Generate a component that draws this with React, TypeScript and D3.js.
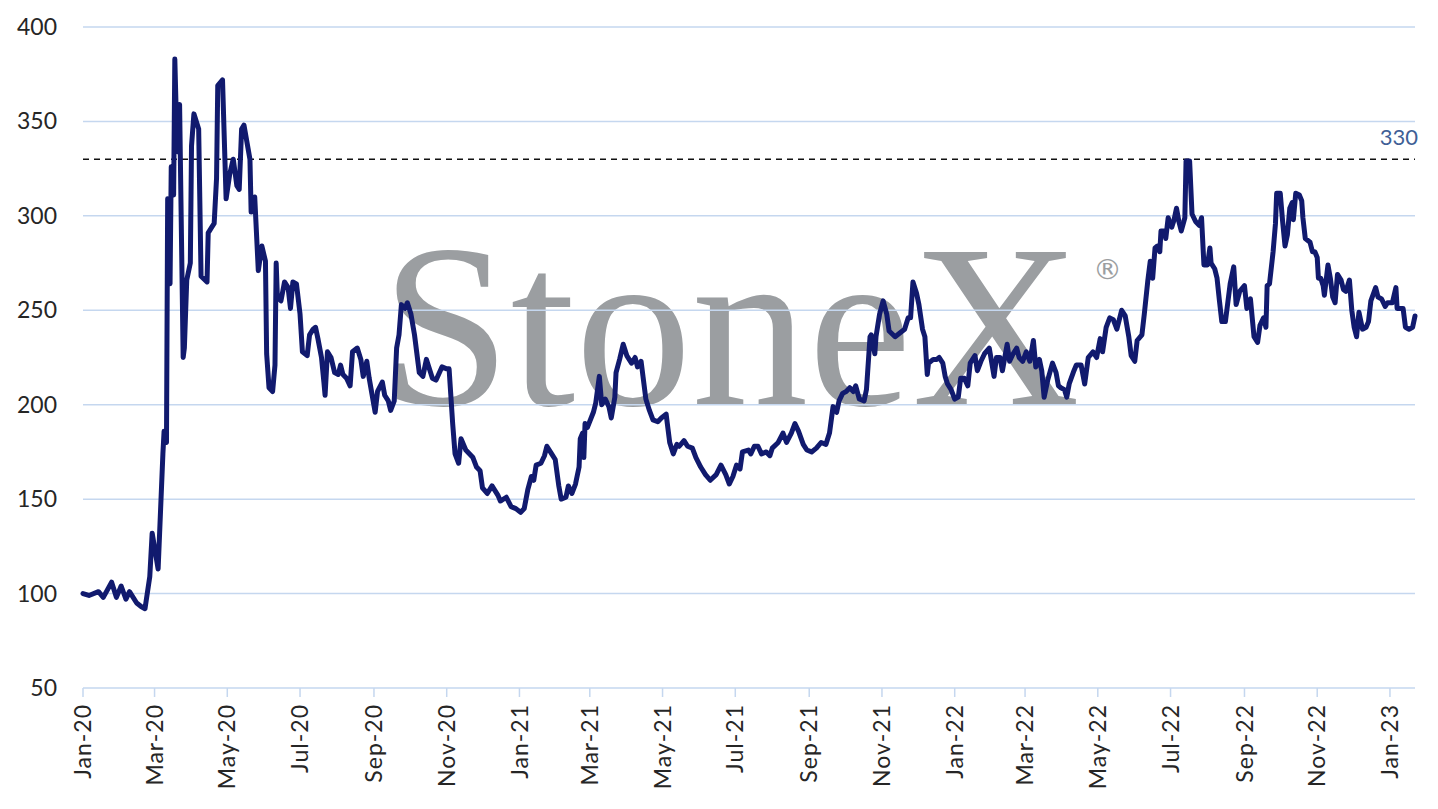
import { useRef, useEffect } from 'react'
import * as d3 from 'd3'

// Index level, one reading every few days
const days2020 = [
  '01-01', '01-06', '01-14', '01-18', '01-25', '01-29', '02-02', '02-06', '02-09', '02-15',
  '02-19', '02-22', '02-26', '02-28', '03-04', '03-08', '03-09', '03-11', '03-12', '03-14',
  '03-15', '03-17', '03-18', '03-20', '03-22', '03-25', '03-26', '03-28', '03-31', '04-01',
  '04-03', '04-07', '04-09', '04-14', '04-15', '04-18', '04-20', '04-22', '04-23', '04-27',
  '04-30', '05-03', '05-06', '05-09', '05-11', '05-13', '05-15', '05-20', '05-21', '05-24',
  '05-27', '05-30', '06-02', '06-03', '06-05', '06-08', '06-10', '06-11', '06-12', '06-15',
  '06-18', '06-21', '06-23', '06-25', '06-28', '07-01', '07-03', '07-07', '07-09', '07-12',
  '07-14', '07-16', '07-19', '07-21', '07-22', '07-24', '07-27', '07-30', '08-02', '08-04',
  '08-06', '08-09', '08-12', '08-14', '08-18', '08-21', '08-23', '08-26', '08-28', '09-02',
  '09-04', '09-08', '09-10', '09-13', '09-15', '09-18', '09-20', '09-22', '09-24', '09-27',
  '09-29', '10-02', '10-05', '10-09', '10-12', '10-15', '10-18', '10-20', '10-23', '10-28',
  '11-01', '11-03', '11-06', '11-08', '11-11', '11-13', '11-17', '11-23', '11-26', '11-29',
  '12-01', '12-05', '12-09', '12-14', '12-16', '12-21', '12-25', '12-29',
]
const vals2020 = [
  100, 99, 101, 98, 106, 98, 104, 97, 101, 95,
  93, 92, 109, 132, 113, 174, 186, 180, 309, 264,
  326, 311, 383, 334, 359, 225, 230, 266, 275, 337,
  354, 346, 268, 265, 291, 294, 296, 320, 369, 372,
  309, 322, 330, 316, 314, 346, 348, 330, 302, 310,
  271, 284, 276, 227, 209, 207, 221, 275, 257, 255,
  265, 262, 251, 265, 264, 248, 228, 226, 237, 240,
  241, 235, 225, 212, 205, 228, 225, 217, 216, 221,
  216, 214, 210, 228, 230, 224, 215, 223, 214, 196,
  207, 212, 205, 202, 197, 202, 230, 237, 253, 251,
  254, 248, 237, 217, 215, 224, 218, 214, 213, 220,
  219, 219, 190, 174, 169, 182, 176, 172, 167, 165,
  156, 153, 157, 152, 149, 151, 146, 145,
]

const days2021 = [
  '01-02', '01-05', '01-08', '01-11', '01-13', '01-15', '01-19', '01-22', '01-24', '01-28',
  '01-31', '02-03', '02-05', '02-09', '02-11', '02-14', '02-17', '02-20', '02-21', '02-23',
  '02-24', '02-25', '02-27', '03-04', '03-06', '03-09', '03-11', '03-14', '03-17', '03-19',
  '03-22', '03-23', '03-26', '03-29', '04-01', '04-05', '04-08', '04-10', '04-13', '04-17',
  '04-20', '04-23', '04-27', '04-30', '05-04', '05-07', '05-10', '05-13', '05-15', '05-19',
  '05-22', '05-26', '05-29', '06-02', '06-06', '06-10', '06-15', '06-19', '06-23', '06-26',
  '06-29', '07-02', '07-05', '07-07', '07-12', '07-14', '07-17', '07-20', '07-23', '07-27',
  '07-30', '08-01', '08-06', '08-10', '08-13', '08-17', '08-20', '08-23', '08-27', '08-30',
  '09-03', '09-07', '09-11', '09-15', '09-18', '09-21', '09-24', '09-26', '09-29', '10-02',
  '10-05', '10-08', '10-10', '10-13', '10-17', '10-19', '10-22', '10-23', '10-26', '10-27',
  '10-30', '11-02', '11-05', '11-07', '11-12', '11-16', '11-20', '11-23', '11-25', '11-27',
  '11-30', '12-02', '12-05', '12-07', '12-09', '12-10', '12-14', '12-17', '12-19', '12-22',
  '12-24', '12-26', '12-29',
]
const vals2021 = [
  143, 145, 155, 162, 160, 168, 169, 173, 178, 174,
  171, 157, 150, 151, 157, 153, 158, 167, 182, 185,
  172, 190, 188, 196, 201, 215, 200, 203, 199, 193,
  204, 217, 224, 232, 226, 222, 225, 220, 223, 203,
  197, 192, 191, 193, 195, 180, 174, 179, 178, 181,
  178, 177, 172, 167, 163, 160, 163, 168, 163, 158,
  162, 168, 166, 175, 176, 174, 178, 178, 174, 175,
  173, 177, 180, 185, 180, 185, 190, 186, 179, 176,
  175, 177, 180, 179, 185, 199, 196, 202, 206, 207,
  209, 207, 210, 203, 202, 208, 236, 237, 227, 236,
  248, 255, 248, 239, 236, 238, 240, 246, 246, 265,
  259, 253, 240, 236, 216, 222, 224, 224, 225, 222,
  215, 211, 208,
]

const days2022 = [
  '01-01', '01-04', '01-06', '01-09', '01-12', '01-14', '01-18', '01-20', '01-23', '01-26',
  '01-30', '02-03', '02-05', '02-08', '02-10', '02-14', '02-16', '02-19', '02-22', '02-24',
  '02-27', '03-02', '03-05', '03-08', '03-10', '03-13', '03-15', '03-17', '03-20', '03-24',
  '03-27', '03-29', '03-31', '04-03', '04-05', '04-07', '04-11', '04-13', '04-17', '04-20',
  '04-23', '04-27', '04-30', '05-03', '05-05', '05-08', '05-11', '05-14', '05-17', '05-21',
  '05-24', '05-27', '05-29', '06-01', '06-03', '06-07', '06-09', '06-12', '06-14', '06-16',
  '06-18', '06-20', '06-22', '06-23', '06-26', '06-27', '06-29', '07-02', '07-04', '07-06',
  '07-08', '07-10', '07-13', '07-14', '07-17', '07-19', '07-22', '07-25', '07-27', '07-29',
  '08-01', '08-03', '08-04', '08-07', '08-09', '08-11', '08-13', '08-16', '08-18', '08-20',
  '08-23', '08-25', '08-28', '09-01', '09-03', '09-06', '09-09', '09-12', '09-14', '09-17',
  '09-19', '09-20', '09-22', '09-25', '09-27', '09-28', '10-01', '10-03', '10-05', '10-07',
  '10-09', '10-11', '10-12', '10-14', '10-17', '10-19', '10-20', '10-22', '10-26', '10-28',
  '10-30', '11-01', '11-02', '11-04', '11-06', '11-07', '11-10', '11-12', '11-14', '11-16',
  '11-18', '11-21', '11-23', '11-25', '11-28', '11-30', '12-02', '12-04', '12-06', '12-09',
  '12-12', '12-14', '12-16', '12-20', '12-22', '12-25', '12-28', '12-30',
]
const vals2022 = [
  203, 204, 214, 214, 210, 222, 226, 218, 223, 227,
  230, 215, 225, 225, 218, 232, 223, 227, 230, 225,
  223, 228, 223, 234, 220, 224, 218, 204, 213, 222,
  217, 210, 209, 208, 204, 211, 218, 221, 221, 211,
  225, 228, 225, 235, 228, 241, 246, 245, 240, 250,
  247, 236, 226, 223, 234, 237, 248, 266, 276, 267,
  283, 284, 281, 292, 292, 288, 299, 294, 298, 304,
  297, 292, 299, 329, 329, 301, 297, 295, 299, 274,
  274, 283, 275, 272, 267, 255, 244, 244, 254, 264,
  273, 253, 260, 263, 251, 256, 236, 233, 242, 246,
  241, 263, 264, 281, 296, 312, 312, 297, 284, 290,
  304, 307, 298, 312, 311, 308, 299, 288, 286, 281,
  281, 278, 267, 267, 263, 258, 274, 267, 257, 254,
  269, 266, 261, 260, 266, 250, 241, 236, 249, 240,
  241, 244, 255, 262, 257, 256, 252, 254,
]

const days2023 = ['01-03', '01-06', '01-07', '01-10', '01-12', '01-14', '01-17', '01-20', '01-22']
const vals2023 = [254, 262, 251, 251, 251, 241, 240, 241, 247]

const yTicks = [50, 100, 150, 200, 250, 300, 350, 400]
const refLevel = 330

const parse = d3.timeParse('%Y-%m-%d')
const series = [
  { year: 2020, days: days2020, vals: vals2020 },
  { year: 2021, days: days2021, vals: vals2021 },
  { year: 2022, days: days2022, vals: vals2022 },
  { year: 2023, days: days2023, vals: vals2023 },
].flatMap(s => s.days.map((d, i) => ({ date: parse(`${s.year}-${d}`)!, value: s.vals[i] })))

const W = 1438
const H = 809
const FONT = "Lato, 'Open Sans', sans-serif"

export default function App() {
  const svgRef = useRef<SVGSVGElement>(null)

  useEffect(() => {
    if (!svgRef.current) return
    const svg = d3.select(svgRef.current)
    svg.selectAll('*').remove()

    const left = 83
    const right = 1415
    const top = 27
    const bottom = 688

    const x = d3.scaleTime()
      .domain([new Date(2020, 0, 1), new Date(2023, 0, 22)])
      .range([left, right])
    const y = d3.scaleLinear().domain([50, 400]).range([bottom, top])

    // watermark sits under the grid
    const wm = svg.append('g').attr('fill', '#9b9ea1')
    wm.append('text')
      .attr('x', 381)
      .attr('y', 405)
      .attr('font-family', "'Liberation Serif', 'DejaVu Serif', serif")
      .attr('font-size', 233)
      .text('StoneX')
    wm.append('text')
      .attr('x', 1093)
      .attr('y', 279)
      .attr('font-family', "'DejaVu Sans', sans-serif")
      .attr('font-size', 29)
      .text('®')

    // gridlines
    svg.append('g')
      .selectAll('line')
      .data(yTicks)
      .join('line')
      .attr('x1', left)
      .attr('x2', right)
      .attr('y1', d => y(d))
      .attr('y2', d => y(d))
      .attr('stroke', '#c5d7ef')
      .attr('stroke-width', 1.5)

    // y labels
    svg.append('g')
      .selectAll('text')
      .data(yTicks)
      .join('text')
      .attr('x', 57)
      .attr('y', d => y(d))
      .attr('dy', '0.35em')
      .attr('text-anchor', 'end')
      .attr('font-family', FONT)
      .attr('font-size', 23)
      .attr('fill', '#262626')
      .text(d => d)

    // x axis ticks every two months
    const xTicks = d3.timeMonth.every(2)!.range(new Date(2020, 0, 1), new Date(2023, 0, 2))
    const fmt = d3.timeFormat('%b-%y')
    const xa = svg.append('g')
    xa.selectAll('line')
      .data(xTicks)
      .join('line')
      .attr('x1', d => x(d))
      .attr('x2', d => x(d))
      .attr('y1', bottom)
      .attr('y2', bottom + 9)
      .attr('stroke', '#c5d7ef')
      .attr('stroke-width', 1.5)
    xa.selectAll('text')
      .data(xTicks)
      .join('text')
      .attr('transform', d => `translate(${x(d)},${bottom + 16}) rotate(-90)`)
      .attr('dy', '0.35em')
      .attr('text-anchor', 'end')
      .attr('font-family', FONT)
      .attr('font-size', 23)
      .attr('letter-spacing', 1)
      .attr('fill', '#262626')
      .text(d => fmt(d))

    // reference level
    svg.append('line')
      .attr('x1', left)
      .attr('x2', right)
      .attr('y1', y(refLevel))
      .attr('y2', y(refLevel))
      .attr('stroke', '#111')
      .attr('stroke-width', 1.5)
      .attr('stroke-dasharray', '6,5')
    svg.append('text')
      .attr('x', 1418)
      .attr('y', y(refLevel) - 14)
      .attr('text-anchor', 'end')
      .attr('font-family', FONT)
      .attr('font-size', 22)
      .attr('fill', '#3f5f96')
      .text(refLevel)

    const line = d3.line<{ date: Date; value: number }>()
      .x(d => x(d.date))
      .y(d => y(d.value))

    svg.append('path')
      .datum(series)
      .attr('d', line)
      .attr('fill', 'none')
      .attr('stroke', '#111a6e')
      .attr('stroke-width', 5)
      .attr('stroke-linejoin', 'round')
      .attr('stroke-linecap', 'round')
  }, [])

  return (
    <svg
      ref={svgRef}
      width={W}
      height={H}
      style={{ position: 'absolute', left: 0, top: 0, background: '#fff' }}
    />
  )
}
